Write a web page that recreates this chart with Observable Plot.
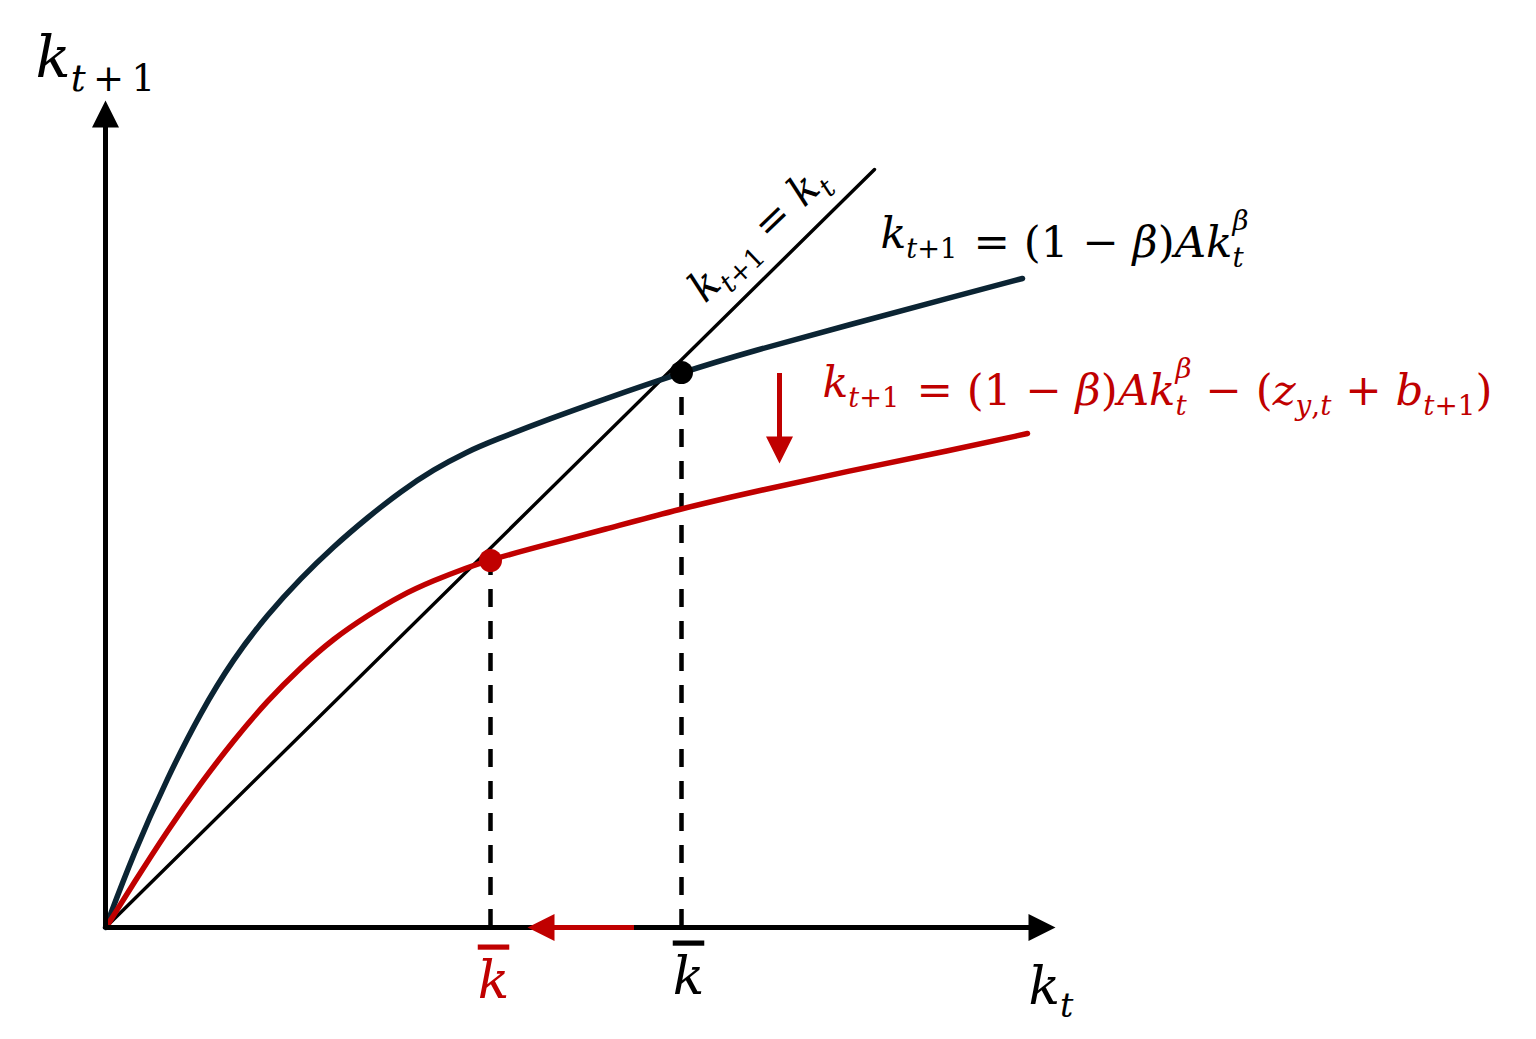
<!DOCTYPE html>
<html><head><meta charset="utf-8">
<script src="https://cdn.jsdelivr.net/npm/d3@7"></script>
<script src="https://cdn.jsdelivr.net/npm/@observablehq/plot@0.6"></script>
<style>
html,body{margin:0;padding:0;background:#fff;}
svg text{white-space:pre;}
</style>
</head><body>
<div id="chart"></div>
<script>
// ---------- data (abstract units) ----------
const blackKt  = [0, 0.28, 0.62, 0.95, 1.28, 1.62, 1.95, 2.28, 2.62, 2.95, 3.28, 3.62, 3.88, 4.45, 4.95, 5.76, 6.45, 7.45, 8.45, 9.17];
const blackKt1 = [0, 0.74, 1.50, 2.15, 2.69, 3.13, 3.49, 3.81, 4.10, 4.36, 4.58, 4.76, 4.87, 5.09, 5.27, 5.55, 5.76, 6.03, 6.30, 6.49];
const redKt    = [0.03, 0.28, 0.62, 0.95, 1.28, 1.62, 1.95, 2.28, 2.62, 2.95, 3.28, 3.62, 3.82, 4.45, 4.95, 5.76, 6.45, 7.45, 8.45, 9.22];
const redKt1   = [0.04, 0.44, 0.97, 1.44, 1.87, 2.27, 2.60, 2.89, 3.12, 3.32, 3.47, 3.60, 3.67, 3.84, 3.97, 4.19, 4.35, 4.57, 4.77, 4.94];
const diagKt   = [0, 7.69];
const diagKt1  = [0, 7.58];
const kBarKt   = [5.76, 3.85];         // steady states (black, red)
const kBarKt1  = [5.55, 3.67];
const kBarColors = ["#000000", "#c00000"];
const axisKt   = [0, 9.5];             // x axis: origin to arrow tip
const axisKt1  = [0, 8.27];            // y axis: origin to arrow tip
const shiftDownKt  = 6.74;             // downward shift arrow
const shiftDownKt1 = [5.54, 4.64];
const shiftLeftKt  = [5.29, 4.22];     // leftward shift of steady state
const labelText = [
  "k_{t\u2009+\u20091}", "k_{t}",
  "k_{t+1}", "= (1 − β)Ak_{t}^{β}",
  "k_{t+1}", "= (1 − β)Ak_{t}^{β} − (z_{y,t} + b_{t+1})",
  "k̄", "k̄"
];
const labelKt   = [-0.70, 9.23, 7.75, 8.68, 7.17, 8.11, 5.83, 3.88];
const labelKt1  = [8.51, -0.76, 6.80, 6.71, 5.31, 5.23, -0.66, -0.70];
const labelSize = [58, 52, 42.5, 43.5, 42.5, 43.5, 52, 52];
const labelFill = ["#000", "#000", "#000", "#000", "#c00000", "#c00000", "#000", "#c00000"];
const labelAnchor = ["start", "start", "start", "start", "start", "start", "middle", "middle"];
const diagLabel = "k_{t+1} = k_{t}";

const RED = "#c00000", NAVY = "#0b2433";
const HEAD = 0.27; // arrow head length in data units

const arrowHead = {
  draw(ctx, size) {
    const r = Math.sqrt(size / Math.PI);
    ctx.moveTo(0, 0); ctx.lineTo(-r, 2 * r); ctx.lineTo(r, 2 * r); ctx.closePath();
  }
};

const black = blackKt.map((x, i) => ({x, y: blackKt1[i]}));
const red = redKt.map((x, i) => ({x, y: redKt1[i]}));
const diag = diagKt.map((x, i) => ({x, y: diagKt1[i]}));
const kbars = kBarKt.map((x, i) => ({x, y: kBarKt1[i], c: kBarColors[i]}));
const heads = [
  {x: axisKt[0], y: axisKt1[1], rot: 0, c: "#000"},
  {x: axisKt[1], y: axisKt1[0], rot: 90, c: "#000"},
  {x: shiftDownKt, y: shiftDownKt1[1], rot: 180, c: RED},
  {x: shiftLeftKt[1], y: 0, rot: -90, c: RED}
];
const labels = labelText.map((t, i) => ({t, x: labelKt[i], y: labelKt1[i], s: labelSize[i], f: labelFill[i], a: labelAnchor[i]}));

const marks = [
  Plot.line(diag, {x: "x", y: "y", stroke: "#000", strokeWidth: 3.4}),
  Plot.ruleX(kbars, {x: "x", y1: 0, y2: "y", stroke: "#000", strokeWidth: 4.5, strokeDasharray: "18,14"}),
  Plot.line(black, {x: "x", y: "y", stroke: NAVY, strokeWidth: 5.5, curve: "basis"}),
  Plot.line(red, {x: "x", y: "y", stroke: RED, strokeWidth: 5.5, curve: "basis"}),
  Plot.ruleY([axisKt1[0]], {x1: axisKt[0], x2: axisKt[1] - HEAD + 0.05, stroke: "#000", strokeWidth: 5}),
  Plot.ruleX([axisKt[0]], {y1: axisKt1[0] - 0.02, y2: axisKt1[1] - HEAD + 0.05, stroke: "#000", strokeWidth: 5}),
  Plot.ruleX([shiftDownKt], {y1: shiftDownKt1[0], y2: shiftDownKt1[1] + HEAD - 0.05, stroke: RED, strokeWidth: 5}),
  Plot.ruleY([0], {x1: shiftLeftKt[0], x2: shiftLeftKt[1] + HEAD - 0.05, stroke: RED, strokeWidth: 5}),
  Plot.dot(heads, {x: "x", y: "y", rotate: "rot", fill: "c", stroke: "none", symbol: arrowHead, r: 13.5}),
  Plot.dot(kbars, {x: "x", y: "y", fill: "c", r: 11.5, stroke: "none"}),
  ...labels.map(l => Plot.text([l], {x: "x", y: "y", text: "t", fill: l.f, fontSize: l.s, textAnchor: l.a, lineAnchor: "bottom"})),
  Plot.text([diagLabel], {x: [6.62], y: [6.84], text: d => d, rotate: -44, fill: "#000", fontSize: 42, textAnchor: "middle", lineAnchor: "bottom"})
];

const plot = Plot.plot({
  width: 1536, height: 1039,
  marginTop: 0, marginRight: 0, marginBottom: 0, marginLeft: 0,
  x: {domain: [0, 9.5], range: [105, 1055], axis: null},
  y: {domain: [0, 8.27], range: [927, 100], axis: null},
  color: {type: "identity"},
  style: {fontFamily: "'DejaVu Serif', serif", background: "#fff", overflow: "visible"},
  marks
});
document.getElementById("chart").append(plot);

// ---------- math markup: _{sub} ^{sup}, italic letters, combining macron -> overline ----------
const NS = "http://www.w3.org/2000/svg";
const SCALE = 0.64, SUB = 0.25, SUP = 0.6;
function renderMath(el) {
  const src = el.textContent;
  const base = parseFloat(getComputedStyle(el).fontSize);
  while (el.firstChild) el.removeChild(el.firstChild);
  const parts = src.split(/(_\{[^}]*\}|\^\{[^}]*\})/).filter(s => s !== "");
  let shift = 0, prevSub = false, subW = 0;
  for (const p of parts) {
    let level = 0, txt = p;
    if (p.startsWith("_{")) { level = 1; txt = p.slice(2, -1); }
    else if (p.startsWith("^{")) { level = -1; txt = p.slice(2, -1); }
    const target = level === 1 ? SUB * base : level === -1 ? -SUP * base : 0;
    const size = level ? SCALE * base : base;
    let dx = 0;
    if (level === -1 && prevSub) dx = -subW;
    const runs = txt.split(/([\p{L}\p{M}]+)/u).filter(s => s !== "");
    let width = 0, first = true;
    for (let r of runs) {
      const ts = document.createElementNS(NS, "tspan");
      if (r.includes("\u0304")) {
        r = r.replace(/\u0304/g, "");
        ts.style.textDecoration = "overline";
      }
      ts.textContent = r;
      ts.setAttribute("font-size", size);
      if (/\p{L}/u.test(r)) ts.setAttribute("font-style", "italic");
      if (first) {
        ts.setAttribute("dy", target - shift);
        if (dx) ts.setAttribute("dx", dx);
        first = false;
      }
      el.appendChild(ts);
      width += ts.getComputedTextLength();
    }
    shift = target;
    prevSub = level === 1;
    subW = level === 1 ? width : 0;
  }
}
plot.querySelectorAll("text").forEach(renderMath);
</script>
</body></html>
